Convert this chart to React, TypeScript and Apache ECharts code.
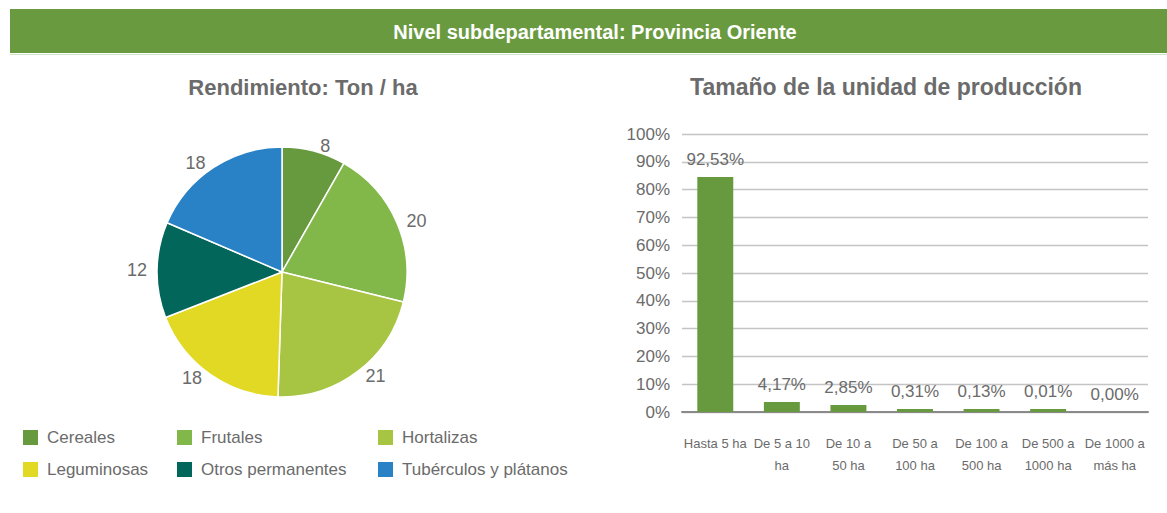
import React, { useEffect, useRef } from "react";
import * as echarts from "echarts";

const headerText = "Nivel subdepartamental: Provincia Oriente";
const pieTitle = "Rendimiento: Ton / ha";
const barTitle = "Tamaño de la unidad de producción";

const crops = ["Cereales", "Frutales", "Hortalizas", "Leguminosas", "Otros permanentes", "Tubérculos y plátanos"];
const cropYields = [8, 20, 21, 18, 12, 18];
const cropColors = ["#679a3f", "#82b74a", "#a8c443", "#e2d925", "#03665b", "#2a82c6"];

const sizeClasses = [
  "Hasta 5 ha",
  "De 5 a 10\nha",
  "De 10 a\n50 ha",
  "De 50 a\n100 ha",
  "De 100 a\n500 ha",
  "De 500 a\n1000 ha",
  "De 1000 a\nmás ha",
];
// bar heights as drawn in the picture (percent of the axis)
const barHeights = [84.5, 3.6, 2.5, 1.1, 1.1, 1.1, 0];
// percentages printed above the bars
const barLabels = ["92,53%", "4,17%", "2,85%", "0,31%", "0,13%", "0,01%", "0,00%"];
const yTicks = [0, 10, 20, 30, 40, 50, 60, 70, 80, 90, 100];

const FONT = "'Liberation Sans', Arial, Helvetica, sans-serif";
const GREY = "#6b6b6b";

export default function App() {
  const ref = useRef<HTMLDivElement>(null);
  useEffect(() => {
    if (!ref.current) return;
    const chart = echarts.init(ref.current, null, { renderer: "svg" });
    const legendPos = [
      [21, 428],
      [175, 428],
      [376, 428],
      [21, 460],
      [175, 460],
      [376, 460],
    ];
    const legends = crops.map((name, i) => ({
      show: true,
      left: legendPos[i][0],
      top: legendPos[i][1],
      orient: "horizontal",
      icon: "rect",
      itemWidth: 17,
      itemHeight: 17,
      padding: 0,
      selectedMode: false,
      data: [name],
      textStyle: { fontFamily: FONT, fontSize: 17, color: GREY, padding: [0, 0, 0, 3] },
    }));
    chart.setOption({
      animation: false,
      textStyle: { fontFamily: FONT },
      graphic: [
        {
          type: "rect",
          shape: { x: 10, y: 9, width: 1157, height: 44 },
          style: { fill: "#6a9a40" },
          silent: true,
        },
        {
          type: "line",
          shape: { x1: 10, y1: 54.5, x2: 1167, y2: 54.5 },
          style: { stroke: "#d3e3c6", lineWidth: 1 },
          silent: true,
        },
        {
          type: "text",
          x: 595,
          y: 32,
          style: {
            text: headerText,
            fill: "#ffffff",
            font: `bold 20px ${FONT}`,
            align: "center",
            verticalAlign: "middle",
          },
        },
      ],
      title: [
        {
          text: pieTitle,
          left: 303,
          top: 87,
          textAlign: "center",
          textVerticalAlign: "middle",
          padding: 0,
          textStyle: { fontFamily: FONT, fontSize: 22, fontWeight: "bold", color: GREY },
        },
        {
          text: barTitle,
          left: 886,
          top: 87,
          textAlign: "center",
          textVerticalAlign: "middle",
          padding: 0,
          textStyle: { fontFamily: FONT, fontSize: 23, fontWeight: "bold", color: GREY },
        },
      ],
      legend: legends,
      grid: { left: 682, right: 19, top: 134, bottom: 101 },
      xAxis: {
        type: "category",
        data: sizeClasses,
        axisTick: { show: false },
        axisLine: { show: true, lineStyle: { color: "#8a8a8a", width: 2 } },
        axisLabel: {
          interval: 0,
          margin: 20,
          fontFamily: FONT,
          fontSize: 13,
          color: GREY,
          lineHeight: 22,
        },
      },
      yAxis: {
        type: "value",
        min: yTicks[0],
        max: yTicks[yTicks.length - 1],
        interval: 10,
        axisLine: { show: false },
        axisTick: { show: false },
        splitLine: { lineStyle: { color: "#c4c4c4", width: 1.3 } },
        axisLabel: {
          formatter: "{value}%",
          margin: 12,
          fontFamily: FONT,
          fontSize: 17,
          color: GREY,
        },
      },
      series: [
        {
          type: "pie",
          center: [282, 272],
          radius: [0, 125],
          startAngle: 90,
          clockwise: true,
          silent: true,
          itemStyle: { borderColor: "#ffffff", borderWidth: 1.5 },
          label: {
            show: true,
            position: "outside",
            formatter: "{c}",
            fontFamily: FONT,
            fontSize: 18,
            color: GREY,
          },
          labelLine: { show: false, length: 5, length2: 0 },
          data: crops.map((name, i) => ({
            name,
            value: cropYields[i],
            itemStyle: { color: cropColors[i] },
          })),
        },
        {
          type: "bar",
          barWidth: "54%",
          silent: true,
          itemStyle: { color: "#679a3f" },
          label: {
            show: true,
            position: "top",
            distance: 9,
            fontFamily: FONT,
            fontSize: 17,
            color: GREY,
            formatter: (p: any) => barLabels[p.dataIndex],
          },
          data: barHeights,
        },
      ],
    });
    return () => chart.dispose();
  }, []);
  return (
    <div
      ref={ref}
      style={{ position: "fixed", left: 0, top: 0, width: 1167, height: 513, background: "#ffffff" }}
    />
  );
}
